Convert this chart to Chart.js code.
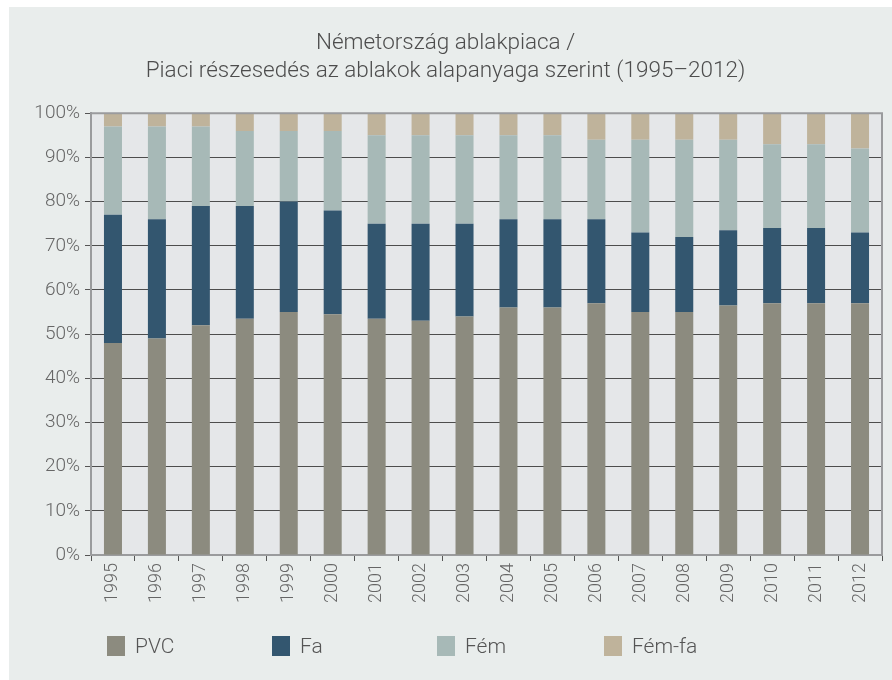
<!DOCTYPE html>
<html lang="hu">
<head>
<meta charset="utf-8">
<title>Németország ablakpiaca</title>
<script src="https://cdn.jsdelivr.net/npm/chart.js@4"></script>
<style>
    html, body { margin: 0; padding: 0; background: #ffffff; }
    #panel {
        position: absolute;
        left: 9px;
        top: 7px;
        width: 883px;
        height: 673px;
        background: #e9edec;
    }
    #chart-wrap { position: absolute; left: 0; top: 0; width: 883px; height: 673px; }
    .legend-item {
        position: absolute;
        top: 628px;
        height: 22px;
        font-family: Roboto, "Liberation Sans", sans-serif;
        font-weight: 300;
        font-size: 21px;
        line-height: 22px;
        color: #555555;
        white-space: nowrap;
    }
    .legend-box {
        position: absolute;
        left: 0;
        top: 1px;
        width: 18px;
        height: 20px;
    }
    .legend-text { position: absolute; left: 28px; top: 0; }
</style>
</head>
<body>
<div id="panel">
    <div id="chart-wrap"><canvas id="market-chart" width="883" height="673"></canvas></div>
    <div id="legend"></div>
</div>
<script>
// Market share by window frame material, Germany (percent)
const years = ['1995', '1996', '1997', '1998', '1999', '2000', '2001', '2002', '2003',
    '2004', '2005', '2006', '2007', '2008', '2009', '2010', '2011', '2012'];
const pvc = [48, 49, 52, 53.5, 55, 54.5, 53.5, 53, 54, 56, 56, 57, 55, 55, 56.5, 57, 57, 57];
const fa = [29, 27, 27, 25.5, 25, 23.5, 21.5, 22, 21, 20, 20, 19, 18, 17, 17, 17, 17, 16];
const fem = [20, 21, 18, 17, 16, 18, 20, 20, 20, 19, 19, 18, 21, 22, 20.5, 19, 19, 19];
const femFa = [3, 3, 3, 4, 4, 4, 5, 5, 5, 5, 5, 6, 6, 6, 6, 7, 7, 8];
const yTicks = [0, 10, 20, 30, 40, 50, 60, 70, 80, 90, 100];

const seriesNames = ['PVC', 'Fa', 'Fém', 'Fém-fa'];
const seriesColors = ['#8c8b7f', '#33566f', '#a7b9b7', '#bfb39b'];

const FONT = 'Roboto, "Liberation Sans", sans-serif';

// plot background + top/right frame
const plotFrame = {
    id: 'plotFrame',
    beforeDatasetsDraw(chart) {
        const { ctx, chartArea: a } = chart;
        ctx.save();
        ctx.fillStyle = '#e5e7e9';
        ctx.globalCompositeOperation = 'destination-over';
        ctx.fillRect(a.left, a.top, a.right - a.left, a.bottom - a.top);
        ctx.restore();
    },
    afterDraw(chart) {
        const { ctx, chartArea: a } = chart;
        ctx.save();
        ctx.strokeStyle = '#9a9b9d';
        ctx.lineWidth = 2;
        ctx.beginPath();
        ctx.moveTo(a.left, a.top);
        ctx.lineTo(a.right, a.top);
        ctx.lineTo(a.right, a.bottom);
        ctx.stroke();
        ctx.restore();
    }
};

document.addEventListener('DOMContentLoaded', function () {
    buildChart();
    buildLegend();
});

function buildChart() {
    const datasets = [pvc, fa, fem, femFa].map((values, i) => ({
        label: seriesNames[i],
        data: values,
        backgroundColor: seriesColors[i],
        borderWidth: 0,
        categoryPercentage: 1,
        barPercentage: 0.41
    }));

    const ctx = document.getElementById('market-chart').getContext('2d');
    new Chart(ctx, {
        type: 'bar',
        data: { labels: years, datasets: datasets },
        plugins: [plotFrame],
        options: {
            responsive: false,
            animation: false,
            layout: { padding: { left: 0, right: 10, top: 0, bottom: 0 } },
            scales: {
                x: {
                    stacked: true,
                    offset: true,
                    afterFit: scale => { scale.height = 125; },
                    grid: {
                        offset: true,
                        drawOnChartArea: false,
                        drawTicks: true,
                        tickLength: 6,
                        tickColor: '#555555',
                        tickWidth: 1
                    },
                    border: { color: '#9a9b9d', width: 2 },
                    ticks: {
                        minRotation: 90,
                        maxRotation: 90,
                        padding: 2,
                        color: '#666666',
                        font: { family: FONT, size: 18, weight: 300 }
                    }
                },
                y: {
                    stacked: true,
                    min: 0,
                    max: 100,
                    afterFit: scale => { scale.width = 82; },
                    afterBuildTicks: scale => { scale.ticks = yTicks.map(v => ({ value: v })); },
                    grid: {
                        color: '#4d4d4d',
                        lineWidth: 1,
                        drawTicks: true,
                        tickLength: 6,
                        tickColor: '#555555'
                    },
                    border: { color: '#9a9b9d', width: 2 },
                    ticks: {
                        padding: 5,
                        color: '#666666',
                        font: { family: FONT, size: 19, weight: 300 },
                        callback: v => v + '%'
                    }
                }
            },
            plugins: {
                legend: { display: false },
                tooltip: { enabled: false },
                title: {
                    display: true,
                    text: ['Németország ablakpiaca /', 'Piaci részesedés az ablakok alapanyaga szerint (1995–2012)'],
                    color: '#4d4d4d',
                    font: { family: FONT, size: 22.5, weight: 300, lineHeight: 1.25 },
                    padding: { top: 22, bottom: 28 }
                }
            }
        }
    });
}

function buildLegend() {
    const legend = document.getElementById('legend');
    const lefts = [98, 263, 428, 595];
    let html = '';
    seriesNames.forEach((name, i) => {
        html += `
            <div class="legend-item" style="left:${lefts[i]}px">
                <span class="legend-box" style="background:${seriesColors[i]}"></span>
                <span class="legend-text">${name}</span>
            </div>
        `;
    });
    legend.innerHTML = html;
}
</script>
</body>
</html>
